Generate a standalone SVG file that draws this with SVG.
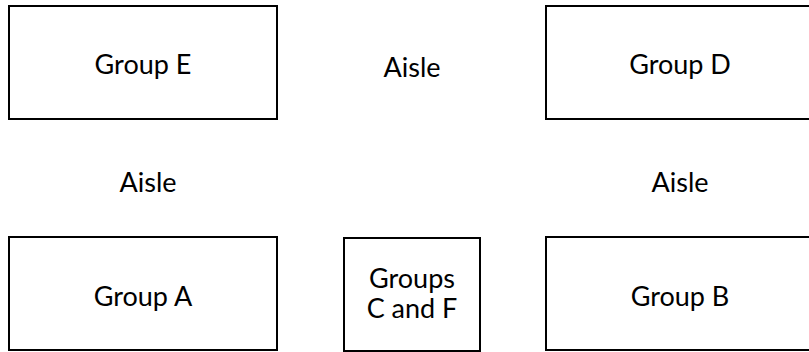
<svg xmlns="http://www.w3.org/2000/svg" width="809" height="352" viewBox="0 0 809 352">
<style>
.box{fill:#fff;stroke:#000;stroke-width:2}
.t{font-family:Lato,"Open Sans","Liberation Sans",sans-serif;font-size:27px;fill:#000;text-anchor:middle}
</style>
<rect width="809" height="352" fill="#fff"/>
<g id="groupE"><rect class="box" x="9" y="6" width="268" height="113"/><text class="t" x="143" y="74">Group E</text></g>
<g id="groupD"><rect class="box" x="546" y="6" width="268" height="113"/><text class="t" x="680" y="74">Group D</text></g>
<g id="groupA"><rect class="box" x="9" y="237" width="268" height="113"/><text class="t" x="143" y="306">Group A</text></g>
<g id="groupCF"><rect class="box" x="344" y="238" width="136" height="113"/><text class="t" x="412" y="288">Groups</text><text class="t" x="412" y="318">C and F</text></g>
<g id="groupB"><rect class="box" x="546" y="237" width="268" height="113"/><text class="t" x="680" y="306">Group B</text></g>
<g id="aisleTop"><text class="t" x="412" y="77">Aisle</text></g>
<g id="aisleLeft"><text class="t" x="148" y="192">Aisle</text></g>
<g id="aisleRight"><text class="t" x="680" y="192">Aisle</text></g>
<g id="connectors"></g>
</svg>
